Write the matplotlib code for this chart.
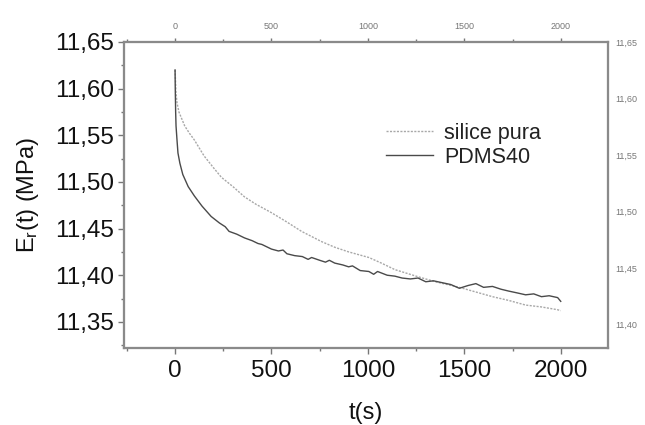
import matplotlib
matplotlib.use("Agg")
import matplotlib.pyplot as plt
from matplotlib.ticker import MultipleLocator

plt.rcParams['font.family'] = ['Liberation Sans', 'DejaVu Sans']
plt.rcParams['mathtext.default'] = 'regular'

# --- data ---
t_silice = [0, 2, 5, 10, 20, 30, 50, 75, 100, 150, 200, 240, 300, 360, 420, 500,
            580, 656, 760, 828, 900, 1005, 1070, 1140, 1250, 1350, 1474, 1560,
            1646, 1730, 1818, 1900, 1984, 2000]
e_silice = [11.620, 11.610, 11.595, 11.585, 11.575, 11.570, 11.560, 11.552, 11.545,
            11.528, 11.515, 11.505, 11.495, 11.484, 11.476, 11.467, 11.457, 11.447,
            11.436, 11.430, 11.425, 11.419, 11.413, 11.406, 11.399, 11.393, 11.387,
            11.382, 11.377, 11.373, 11.368, 11.366, 11.363, 11.362]

t_pdms = [0, 1, 3, 5, 10, 15, 25, 40, 68, 100, 140, 187, 230, 260, 280, 320, 360,
          400, 430, 450, 500, 536, 560, 580, 620, 660, 690, 708, 750, 780, 800, 828,
          870, 900, 920, 960, 1005, 1030, 1050, 1100, 1140, 1177, 1220, 1260, 1300,
          1340, 1385, 1430, 1474, 1520, 1560, 1600, 1646, 1690, 1730, 1775, 1818,
          1860, 1900, 1940, 1984, 2000]
e_pdms = [11.620, 11.600, 11.575, 11.560, 11.545, 11.531, 11.520, 11.508, 11.495,
          11.485, 11.474, 11.463, 11.456, 11.452, 11.447, 11.444, 11.440, 11.437,
          11.434, 11.433, 11.428, 11.426, 11.427, 11.423, 11.421, 11.420, 11.417,
          11.419, 11.416, 11.414, 11.416, 11.413, 11.411, 11.409, 11.410, 11.405,
          11.404, 11.401, 11.404, 11.400, 11.399, 11.397, 11.396, 11.397, 11.393,
          11.394, 11.392, 11.390, 11.386, 11.389, 11.391, 11.387, 11.388, 11.385,
          11.383, 11.381, 11.379, 11.380, 11.377, 11.378, 11.376, 11.372]

xticks = [0, 500, 1000, 1500, 2000]
yticks_left = [11.35, 11.40, 11.45, 11.50, 11.55, 11.60, 11.65]
yticks_right = [11.40, 11.45, 11.50, 11.55, 11.60, 11.65]

def comma(v):
    return f"{v:.2f}".replace('.', ',')

fig = plt.figure(figsize=(6.45, 4.25), dpi=100)
ax = fig.add_axes([0.1922, 0.1812, 0.7504, 0.72])

ax.plot(t_silice, e_silice, color='#a8a8a8', lw=1.0, ls=(0, (1.5, 1.0)), label='silice pura')
ax.plot(t_pdms, e_pdms, color='#4a4a4a', lw=1.0, label='PDMS40')

ax.set_xlim(-265, 2245)
ax.set_ylim(11.322, 11.65)
ax.set_xticks(xticks)
ax.set_xticklabels([str(v) for v in xticks])
ax.xaxis.set_minor_locator(MultipleLocator(250))
ax.set_yticks(yticks_left)
ax.set_yticklabels([comma(v) for v in yticks_left])
ax.yaxis.set_minor_locator(MultipleLocator(0.025))

ax.tick_params(axis='both', which='major', direction='out', length=4, width=1,
               color='#777777', labelsize=17.5, labelcolor='#111111', pad=5)
ax.tick_params(axis='both', which='minor', direction='out', length=2.5, width=1,
               color='#777777')
ax.tick_params(axis='y', pad=3)

for s in ax.spines.values():
    s.set_color('#8a8a8a')
    s.set_linewidth(1.5)

ax.set_xlabel('t(s)', fontsize=17, color='#111111', labelpad=14)
ax.set_ylabel('E$_r$(t) (MPa)', fontsize=17, color='#111111', labelpad=10)

# top axis
axt = ax.twiny()
axt.set_xlim(ax.get_xlim())
axt.set_xticks(xticks)
axt.set_xticklabels([str(v) for v in xticks])
axt.xaxis.set_minor_locator(MultipleLocator(250))
axt.tick_params(axis='x', which='major', direction='out', length=3, width=1,
                color='#777777', labelsize=6.5, labelcolor='#777777', pad=5)
axt.tick_params(axis='x', which='minor', direction='out', length=2, width=1,
                color='#777777')

# right axis
axr = ax.twinx()
axr.set_ylim(11.379, 11.65)
axr.set_yticks(yticks_right)
axr.set_yticklabels([comma(v) for v in yticks_right])
axr.tick_params(axis='y', which='major', direction='in', length=0,
                labelsize=6.5, labelcolor='#777777', pad=5)

for a in (axt, axr):
    for s in a.spines.values():
        s.set_color('#8a8a8a')
        s.set_linewidth(1.5)

leg = ax.legend(loc='upper left', bbox_to_anchor=(0.523, 0.765), frameon=False,
                fontsize=15.5, handlelength=2.2, handletextpad=0.5,
                labelspacing=0.15, borderaxespad=0)
for txt in leg.get_texts():
    txt.set_color('#222222')

fig.savefig('out.png', dpi=100)
